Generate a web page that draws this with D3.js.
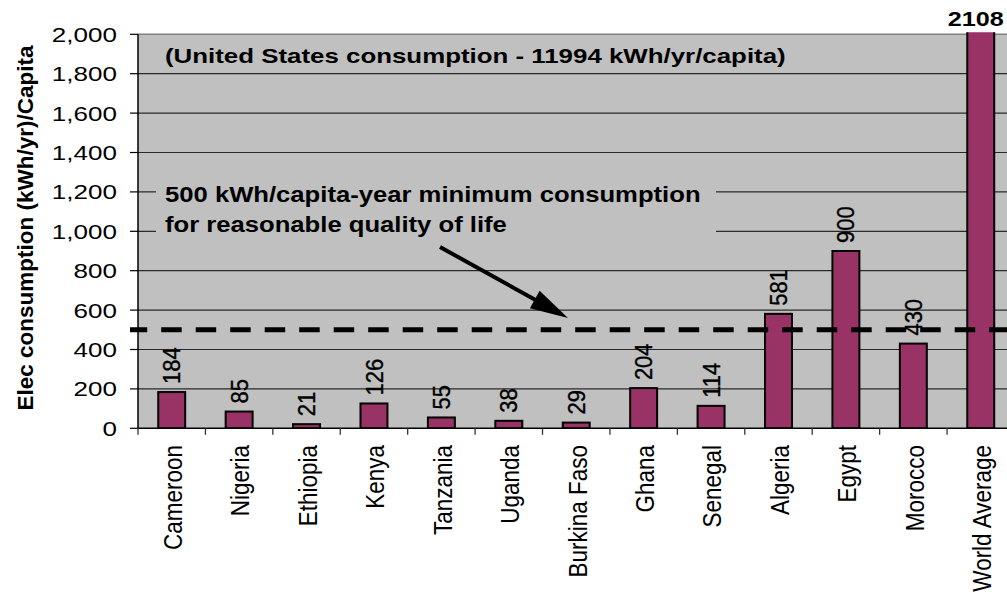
<!DOCTYPE html>
<html>
<head>
<meta charset="utf-8">
<script src="https://cdn.jsdelivr.net/npm/d3@7"></script>
<style>
  html, body { margin: 0; padding: 0; background: #ffffff; overflow: hidden; }
  svg { display: block; }
</style>
</head>
<body>
<svg id="chart" width="1007" height="598"></svg>
<script>
// ---- data ----
const categories = ["Cameroon", "Nigeria", "Ethiopia", "Kenya", "Tanzania", "Uganda", "Burkina Faso",
                    "Ghana", "Senegal", "Algeria", "Egypt", "Morocco", "World Average"];
const values = [184, 85, 21, 126, 55, 38, 29, 204, 114, 581, 900, 430, 2108];
const yTickValues = [0, 200, 400, 600, 800, 1000, 1200, 1400, 1600, 1800, 2000];
const yDomain = [0, 2000];
const thresholdValue = 500;
const yAxisTitle = "Elec consumption (kWh/yr)/Capita";
const usNote = "(United States consumption - 11994 kWh/yr/capita)";
const annotationLines = ["500 kWh/capita-year minimum consumption", "for reasonable quality of life"];

// ---- layout ----
const FONT = "'Liberation Sans', Arial, Helvetica, sans-serif";
const plotLeft = 138, plotTop = 34.3, plotBottom = 428.3;
const step = 67.42;
const plotRight = plotLeft + step * categories.length;

const svg = d3.select("#chart");

const x = d3.scaleBand()
  .domain(categories)
  .range([plotLeft, plotRight])
  .paddingInner(0.6)
  .paddingOuter(0.3);

const y = d3.scaleLinear().domain(yDomain).range([plotBottom, plotTop]);

// clip for plot area
svg.append("defs").append("clipPath").attr("id", "plotClip")
  .append("rect")
  .attr("x", plotLeft).attr("y", plotTop - 2)
  .attr("width", plotRight - plotLeft).attr("height", plotBottom - plotTop + 2);

// background
svg.append("rect")
  .attr("x", plotLeft).attr("y", plotTop)
  .attr("width", plotRight - plotLeft).attr("height", plotBottom - plotTop)
  .attr("fill", "#c0c0c0");

// gridlines
svg.append("g")
  .selectAll("line")
  .data(yTickValues.filter(v => v > 0 && v < yDomain[1]))
  .join("line")
  .attr("x1", plotLeft).attr("x2", plotRight)
  .attr("y1", d => y(d)).attr("y2", d => y(d))
  .attr("stroke", "#2a2a2a").attr("stroke-width", 1.2);

// top border
svg.append("line")
  .attr("x1", plotLeft).attr("x2", plotRight)
  .attr("y1", y(yDomain[1])).attr("y2", y(yDomain[1]))
  .attr("stroke", "#808080").attr("stroke-width", 1.5);

// annotation background box (covers gridlines behind text)
svg.append("rect")
  .attr("x", 156).attr("y", 181)
  .attr("width", 560).attr("height", 60)
  .attr("fill", "#c0c0c0");

// bars
svg.append("g").attr("clip-path", "url(#plotClip)")
  .selectAll("rect")
  .data(categories.map((c, i) => ({ c, v: values[i] })))
  .join("rect")
  .attr("x", d => x(d.c))
  .attr("width", x.bandwidth())
  .attr("y", d => y(Math.min(d.v, yDomain[1] + 20)))
  .attr("height", d => y(0) - y(Math.min(d.v, yDomain[1] + 20)))
  .attr("fill", "#993366")
  .attr("stroke", "#000000")
  .attr("stroke-width", 2);

// threshold dashed line
svg.append("line")
  .attr("x1", 130).attr("x2", 1007)
  .attr("y1", y(thresholdValue)).attr("y2", y(thresholdValue))
  .attr("stroke", "#000000")
  .attr("stroke-width", 5)
  .attr("stroke-dasharray", "20.5,14")
  .attr("stroke-dashoffset", 3.3);

// y axis line
svg.append("line")
  .attr("x1", plotLeft).attr("x2", plotLeft)
  .attr("y1", plotTop).attr("y2", plotBottom)
  .attr("stroke", "#000000").attr("stroke-width", 1.5);

// y ticks
svg.append("g")
  .selectAll("line")
  .data(yTickValues)
  .join("line")
  .attr("x1", plotLeft - 8).attr("x2", plotLeft)
  .attr("y1", d => y(d)).attr("y2", d => y(d))
  .attr("stroke", "#000000").attr("stroke-width", 1.2);

// y tick labels
const fmt = d3.format(",");
svg.append("g")
  .selectAll("text")
  .data(yTickValues)
  .join("text")
  .attr("transform", d => `translate(117,${y(d)}) scale(1.24,1)`)
  .attr("dy", "0.36em")
  .attr("text-anchor", "end")
  .attr("font-family", FONT)
  .attr("font-size", 21)
  .attr("fill", "#000")
  .text(d => fmt(d));

// x axis line
svg.append("line")
  .attr("x1", plotLeft).attr("x2", plotRight)
  .attr("y1", plotBottom).attr("y2", plotBottom)
  .attr("stroke", "#000000").attr("stroke-width", 1.5);

// x ticks at category boundaries
const boundaries = categories.map(c => x(c) + x.bandwidth() / 2 - x.step() / 2);
svg.append("g")
  .selectAll("line")
  .data(boundaries)
  .join("line")
  .attr("x1", d => d).attr("x2", d => d)
  .attr("y1", plotBottom).attr("y2", plotBottom + 6.5)
  .attr("stroke", "#333").attr("stroke-width", 1.3);

// category labels
svg.append("g")
  .selectAll("text")
  .data(categories)
  .join("text")
  .attr("transform", d => `translate(${x(d) + x.bandwidth() / 2 + 1},445) rotate(-90) scale(1,1.15)`)
  .attr("dy", "0.36em")
  .attr("text-anchor", "end")
  .attr("font-family", FONT)
  .attr("font-size", 22.5)
  .attr("fill", "#000")
  .text(d => d);

// value labels
const labelData = categories.map((c, i) => ({ c, v: values[i] }));
svg.append("g")
  .selectAll("text")
  .data(labelData.filter(d => d.v <= yDomain[1]))
  .join("text")
  .attr("transform", d => `translate(${x(d.c) + x.bandwidth() / 2},${y(d.v) - 8}) rotate(-90) scale(1,1.08)`)
  .attr("dy", "0.36em")
  .attr("text-anchor", "start")
  .attr("font-family", FONT)
  .attr("font-size", 22)
  .attr("fill", "#000")
  .attr("stroke", "#000")
  .attr("stroke-width", 0.35)
  .text(d => d.v);

// value labels for bars exceeding the axis
svg.append("g")
  .selectAll("text")
  .data(labelData.filter(d => d.v > yDomain[1]))
  .join("text")
  .attr("transform", d => `translate(${x(d.c) + x.bandwidth() / 2 - 5},26) scale(1.26,1)`)
  .attr("text-anchor", "middle")
  .attr("font-family", FONT)
  .attr("font-weight", "bold")
  .attr("font-size", 20)
  .attr("fill", "#000")
  .text(d => d.v);

// y axis title
svg.append("text")
  .attr("transform", "translate(33,228) rotate(-90)")
  .attr("text-anchor", "middle")
  .attr("font-family", FONT)
  .attr("font-weight", "bold")
  .attr("font-size", 22.5)
  .attr("fill", "#000")
  .text(yAxisTitle);

// US consumption note
svg.append("text")
  .attr("transform", "translate(165,63) scale(1.232,1)")
  .attr("font-family", FONT)
  .attr("font-weight", "bold")
  .attr("font-size", 21)
  .attr("fill", "#000")
  .text(usNote);

// annotation text
svg.append("g")
  .selectAll("text")
  .data(annotationLines)
  .join("text")
  .attr("transform", (d, i) => `translate(165,${201.7 + i * 30}) scale(1.14,1)`)
  .attr("font-family", FONT)
  .attr("font-weight", "bold")
  .attr("font-size", 22.5)
  .attr("fill", "#000")
  .text(d => d);

// arrow
const ax1 = 440, ay1 = 247, ax2 = 568, ay2 = 318;
const ang = Math.atan2(ay2 - ay1, ax2 - ax1);
const headLen = 38, headHalf = 10;
const bx = ax2 - headLen * Math.cos(ang), by = ay2 - headLen * Math.sin(ang);
svg.append("line")
  .attr("x1", ax1).attr("y1", ay1)
  .attr("x2", bx + 4 * Math.cos(ang)).attr("y2", by + 4 * Math.sin(ang))
  .attr("stroke", "#000").attr("stroke-width", 4);
svg.append("polygon")
  .attr("points", [
    [ax2, ay2],
    [bx - headHalf * Math.sin(ang), by + headHalf * Math.cos(ang)],
    [bx + headHalf * Math.sin(ang), by - headHalf * Math.cos(ang)]
  ].map(p => p.join(",")).join(" "))
  .attr("fill", "#000");
</script>
</body>
</html>
